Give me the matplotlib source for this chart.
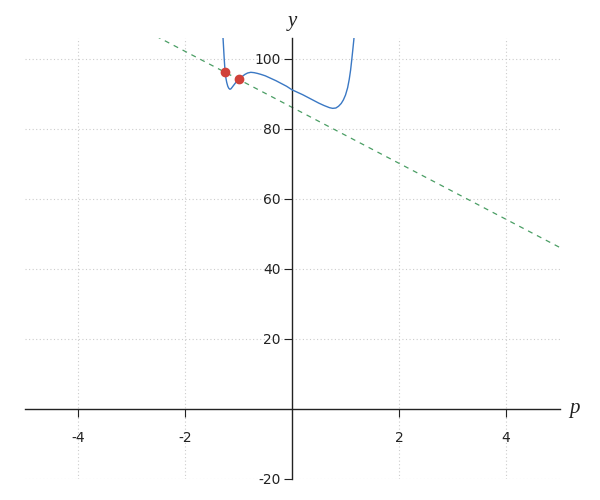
import matplotlib
matplotlib.use("Agg")
import matplotlib.pyplot as plt
import numpy as np

# curve samples
curve_x = [-1.30, -1.29, -1.278, -1.267, -1.258, -1.25, -1.235, -1.22, -1.20,
           -1.18, -1.16, -1.14, -1.11, -1.07, -1.03, -1.00, -0.94, -0.88,
           -0.83, -0.77, -0.71, -0.65, -0.58, -0.50, -0.40, -0.30, -0.20,
           -0.10, 0.00, 0.10, 0.20, 0.30, 0.40, 0.50, 0.60, 0.70, 0.76,
           0.82, 0.87, 0.92, 0.96, 1.00, 1.04, 1.07, 1.095, 1.115, 1.135,
           1.155, 1.17]
curve_y = [108.5, 106.2, 103.0, 100.0, 98.0, 96.2, 94.5, 93.3, 92.2,
           91.6, 91.35, 91.5, 92.1, 92.9, 93.7, 94.2, 94.9, 95.6,
           96.0, 96.2, 96.1, 95.9, 95.6, 95.2, 94.5, 93.8, 93.0,
           92.2, 91.2, 90.5, 89.8, 89.0, 88.2, 87.4, 86.7, 86.1, 85.9,
           86.0, 86.5, 87.3, 88.3, 89.7, 91.8, 94.2, 96.8, 99.5, 102.4,
           105.4, 108.0]

# secant points
pts_x = [-1.25, -1.0]
pts_y = [96.2, 94.2]

x_ticks = [-4, -2, 2, 4]
y_ticks = [-20, 20, 40, 60, 80, 100]
x_lim = (-5, 5)
y_lim = (-20, 106)

fig = plt.figure(figsize=(6, 5), dpi=100)
ax = fig.add_axes([24.5 / 600, 0.042, 535 / 600, 0.882])
ax.set_xlim(*x_lim)
ax.set_ylim(*y_lim)

# grid
for xv in x_ticks:
    ax.axvline(xv, color="#cccccc", lw=0.8, ls=(0, (1, 2.2)), zorder=0)
for yv in y_ticks:
    ax.axhline(yv, color="#cccccc", lw=0.8, ls=(0, (1, 2.2)), zorder=0)

# secant line through the two points
slope = (pts_y[1] - pts_y[0]) / (pts_x[1] - pts_x[0])
lx = np.array(x_lim, dtype=float)
ly = pts_y[0] + slope * (lx - pts_x[0])
ax.plot(lx, ly, color="#4a9e64", lw=0.9, dashes=(4, 4), zorder=2)

ax.plot(curve_x, curve_y, color="#3a78c4", lw=1.0, zorder=3)
ax.plot(pts_x, pts_y, "o", color="#d0413a", ms=6, zorder=4)

# spines through origin
for s in ("top", "right"):
    ax.spines[s].set_visible(False)
ax.spines["left"].set_position(("data", 0))
ax.spines["bottom"].set_position(("data", 0))
for s in ("left", "bottom"):
    ax.spines[s].set_color("#222222")
    ax.spines[s].set_linewidth(1.0)

ax.set_xticks(x_ticks)
ax.set_yticks(y_ticks)
ax.set_xticklabels([str(v) for v in x_ticks])
ax.set_yticklabels([str(v) for v in y_ticks])
ax.tick_params(axis="x", direction="out", length=6, width=0.8, pad=9.5,
               labelsize=10, colors="#222222")
ax.tick_params(axis="y", direction="out", length=6, width=0.8, pad=2,
               labelsize=10, colors="#222222")

ax.annotate("p", xy=(x_lim[1], 0), xycoords="data", xytext=(10.5, 0),
            textcoords="offset points", ha="center", va="center",
            fontsize=15, family="Liberation Serif", style="italic", color="#222222")
ax.annotate("y", xy=(0, y_lim[1]), xycoords="data", xytext=(0, 12),
            textcoords="offset points", ha="center", va="center",
            fontsize=15, family="Liberation Serif", style="italic", color="#222222")

fig.savefig("out.png", dpi=100)
